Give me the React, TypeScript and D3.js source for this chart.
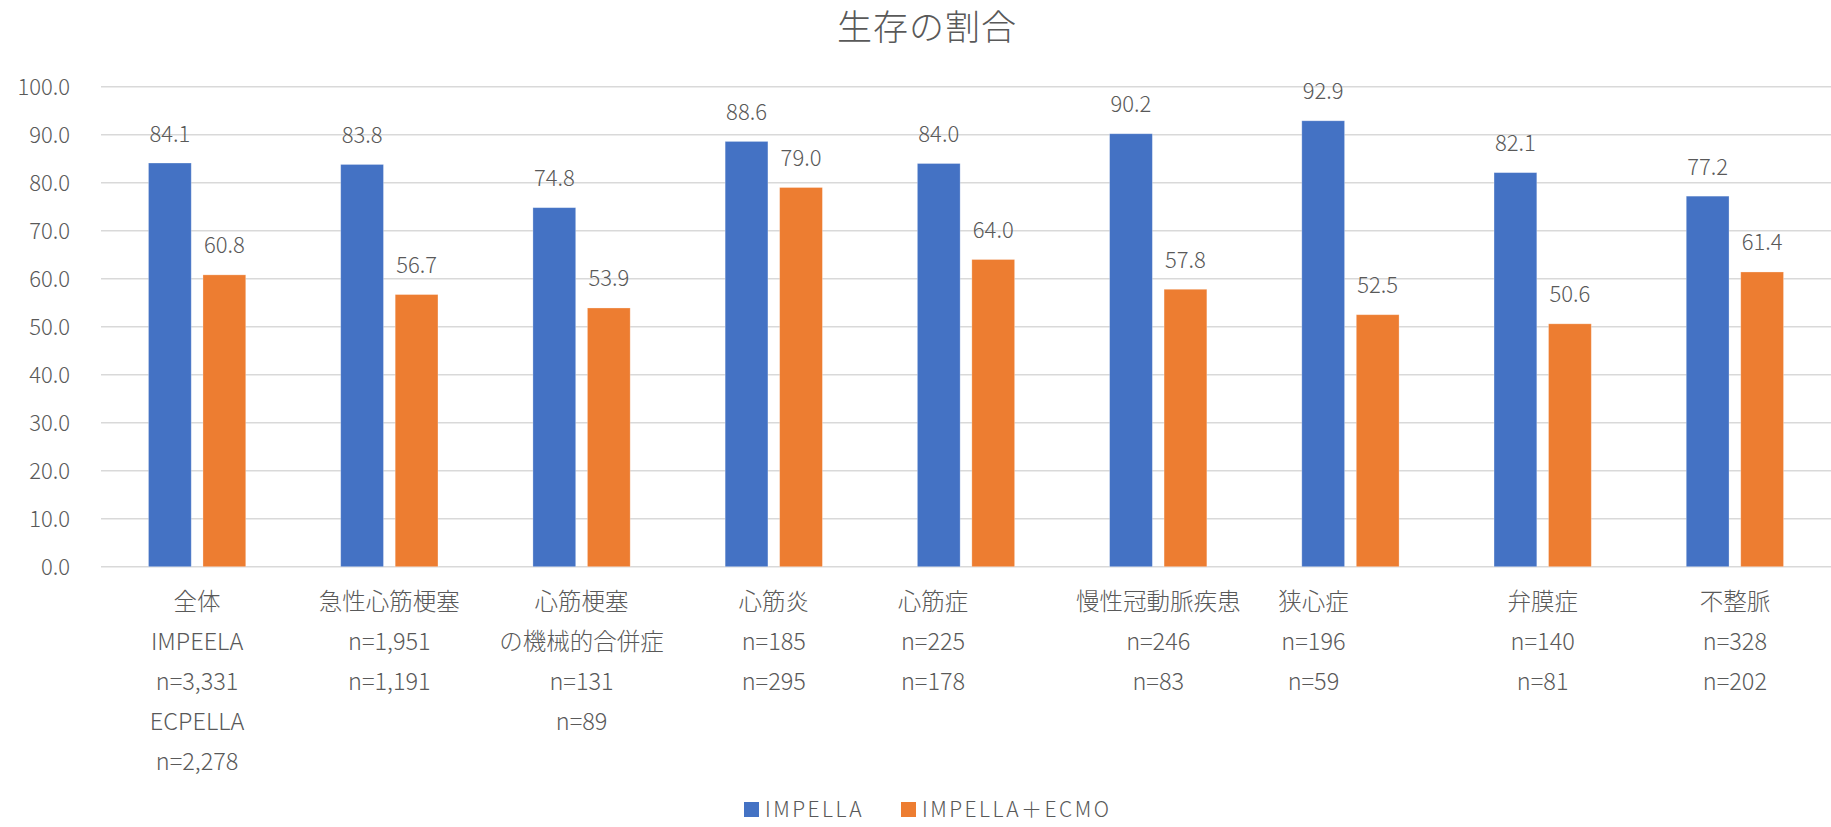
import React from 'react';
import * as d3 from 'd3';

// chart values
const categories = ['全体', '急性心筋梗塞', '心筋梗塞機械的合併症', '心筋炎', '心筋症', '慢性冠動脈疾患', '狭心症', '弁膜症', '不整脈'];
const categoryLines = [
    ['全体', 'IMPEELA', 'n=3,331', 'ECPELLA', 'n=2,278'],
    ['急性心筋梗塞', 'n=1,951', 'n=1,191'],
    ['心筋梗塞', 'の機械的合併症', 'n=131', 'n=89'],
    ['心筋炎', 'n=185', 'n=295'],
    ['心筋症', 'n=225', 'n=178'],
    ['慢性冠動脈疾患', 'n=246', 'n=83'],
    ['狭心症', 'n=196', 'n=59'],
    ['弁膜症', 'n=140', 'n=81'],
    ['不整脈', 'n=328', 'n=202'],
];
const seriesNames = ['IMPELLA', 'IMPELLA＋ECMO'];
const impella = [84.1, 83.8, 74.8, 88.6, 84.0, 90.2, 92.9, 82.1, 77.2];
const impellaEcmo = [60.8, 56.7, 53.9, 79.0, 64.0, 57.8, 52.5, 50.6, 61.4];
const yTicks = [0, 10, 20, 30, 40, 50, 60, 70, 80, 90, 100];
const colors = ['#4472C4', '#ED7D31'];

// label nudges seen in the original (some labels sit left of their category)
const labelNudge = [0, 0, 0, 0, -33, 0, -37, 0, 0];

const W = 1831;
const H = 827;
const font = '"Noto Sans CJK JP", "Noto Sans", sans-serif';
const textColor = '#595959';

function App() {
    const x0 = d3.scaleBand().domain(categories).range([101, 1831]).padding(0);
    const groupW = x0.bandwidth() * 0.506;
    const x1 = d3.scaleBand().domain(seriesNames).range([0, groupW]).paddingInner(0.215);
    const y = d3.scaleLinear().domain([0, 100]).range([566.7, 86.7]);

    const series = [impella, impellaEcmo];
    const legendX = [744, 901];

    return (
        <svg width={W} height={H} style={{ position: 'absolute', left: 0, top: 0, background: '#fff' }} fontFamily={font} fontWeight={300}>
            <rect width={W} height={H} fill="#fff" />
            <text x={927} y={40} textAnchor="middle" fontSize={35} fill={textColor} letterSpacing={1}>生存の割合</text>

            {yTicks.map(t => (
                <g key={t}>
                    <line x1={101} x2={1831} y1={y(t)} y2={y(t)} stroke="#d9d9d9" strokeWidth={1.4} />
                    <text x={70} y={y(t) + 7.8} textAnchor="end" fontSize={22} fill={textColor}>{t.toFixed(1)}</text>
                </g>
            ))}

            {categories.map((c, i) => {
                const gx = x0(c)! + (x0.bandwidth() - groupW) / 2;
                return (
                    <g key={c} transform={`translate(${gx},0)`}>
                        {series.map((vals, s) => {
                            const bx = x1(seriesNames[s])!;
                            const v = vals[i];
                            return (
                                <g key={s}>
                                    <rect x={bx} y={y(v)} width={x1.bandwidth()} height={y(0) - y(v)} fill={colors[s]} stroke="#fff" strokeOpacity={0.35} strokeWidth={0.8} />
                                    <text x={bx + x1.bandwidth() / 2} y={y(v) - 21.5} textAnchor="middle" fontSize={22} fill={textColor}>{v.toFixed(1)}</text>
                                </g>
                            );
                        })}
                    </g>
                );
            })}

            {categories.map((c, i) => (
                <g key={c} transform={`translate(${x0(c)! + x0.bandwidth() / 2 + labelNudge[i]},0)`}>
                    {categoryLines[i].map((line, j) => (
                        <text key={j} x={0} y={610 + j * 40} textAnchor="middle" fontSize={23.5} fill={textColor}>{line}</text>
                    ))}
                </g>
            ))}

            {seriesNames.map((s, i) => (
                <g key={s} transform={`translate(${legendX[i]},0)`}>
                    <rect x={0} y={802} width={15} height={15} fill={colors[i]} />
                    <text x={21} y={817} fontSize={21} fill={textColor} letterSpacing={2.5}>{s}</text>
                </g>
            ))}
        </svg>
    );
}

export default App;
